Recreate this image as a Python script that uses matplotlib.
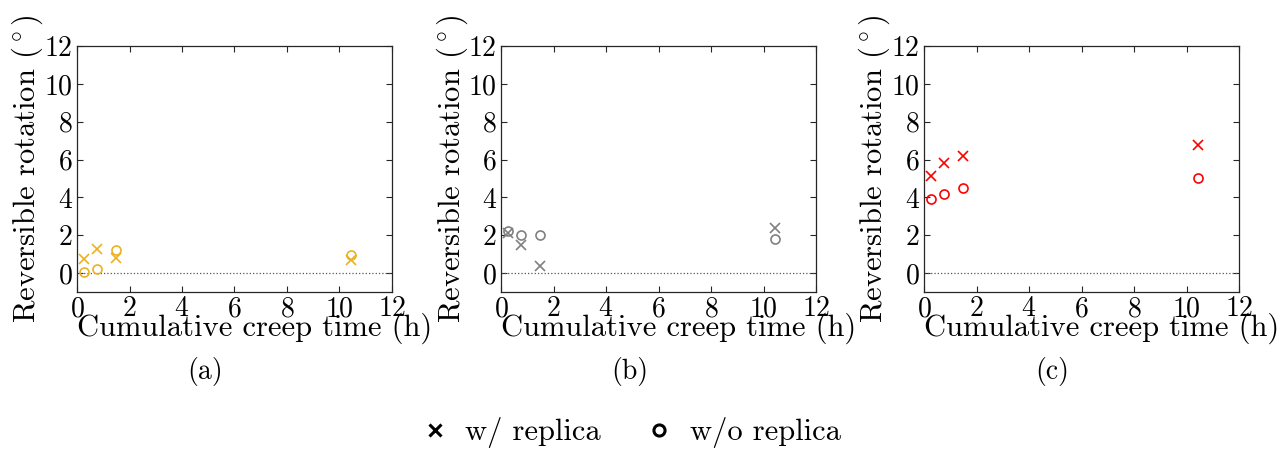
import matplotlib
matplotlib.use("Agg")
import matplotlib.pyplot as plt
from matplotlib.lines import Line2D

plt.rcParams['font.family'] = 'cmr10'
plt.rcParams['mathtext.fontset'] = 'cm'
plt.rcParams['axes.formatter.use_mathtext'] = True
plt.rcParams['axes.unicode_minus'] = False

# Daten
creep_time = [0.25, 0.75, 1.5, 10.45]
with_replica = {
    'a': [0.75, 1.29, 0.8, 0.71],
    'b': [2.1, 1.47, 0.38, 2.4],
    'c': [5.15, 5.8, 6.2, 6.77],
}
without_replica = {
    'a': [0.07, 0.21, 1.21, 0.98],
    'b': [2.2, 2.0, 2.0, 1.82],
    'c': [3.94, 4.19, 4.47, 5.03],
}
panel_colors = {'a': '#EDB120', 'b': '#808080', 'c': '#FF0000'}
panels = ['a', 'b', 'c']
ticks = [0, 2, 4, 6, 8, 10, 12]

W, H = 1285, 449
fig = plt.figure(figsize=(W / 100, H / 100), dpi=100)

lefts = [77, 501, 924]
ax_w, top, bottom = 315, 46, 292

for key, left in zip(panels, lefts):
    ax = fig.add_axes([left / W, 1 - bottom / H, ax_w / W, (bottom - top) / H])
    col = panel_colors[key]
    ax.plot([0, 12], [0, 0], ls=':', color='#555555', lw=0.9)
    ax.plot(creep_time, with_replica[key], ls='none', marker='x', ms=6.5,
            mew=1.2, color=col)
    ax.plot(creep_time, without_replica[key], ls='none', marker='o', ms=6.5,
            mew=1.2, mfc='none', color=col)
    ax.set_xlim(0, 12)
    ax.set_ylim(-1, 12)
    ax.set_xticks(ticks)
    ax.set_yticks(ticks)
    ax.tick_params(direction='in', top=True, right=True, labelsize=20,
                   length=4, width=0.8, colors='#262626', pad=3)
    ax.tick_params(labelcolor='black')
    for s in ax.spines.values():
        s.set_color('#262626')
        s.set_linewidth(0.9)
    ax.set_xlabel('Cumulative creep time (h)', fontsize=22)
    ax.xaxis.set_label_coords(0.565, -0.085)
    ax.set_ylabel(r'Reversible rotation ($^\circ$)', fontsize=22)
    ax.yaxis.set_label_coords(-0.10, 0.5)
    fig.text((left + ax_w / 2 - 29) / W, 1 - 371 / H, '(%s)' % key,
             ha='center', va='center', fontsize=20)

handles = [
    Line2D([], [], ls='none', marker='x', ms=8, mew=2.2, color='black'),
    Line2D([], [], ls='none', marker='o', ms=8, mew=2.2, mfc='none', color='black'),
]
fig.legend(handles, ['w/ replica', 'w/o replica'], loc='center',
           bbox_to_anchor=(630 / W, 1 - 433 / H), ncol=2, frameon=False,
           fontsize=22, handlelength=1.0, handletextpad=0.5, columnspacing=1.4)

fig.savefig('out.png', dpi=100)
